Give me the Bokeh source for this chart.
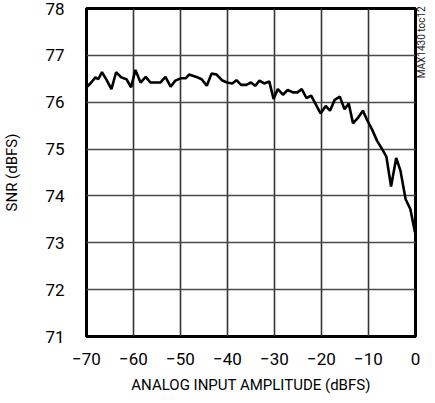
from bokeh.plotting import figure
from bokeh.models import FixedTicker, Range1d, LinearAxis
from bokeh.embed import file_html
from bokeh.resources import INLINE
import math

amplitude_dbfs = [-70, -69, -68.1, -67.5, -66.7, -65.7, -64.7, -63.7, -62.6, -61.5, -60.5, -59.6,
                  -58.5, -57.4, -56.4, -54.3, -53.2, -52.1, -51.1, -50, -48.9, -48.2, -46.6, -45.5,
                  -44.4, -43.4, -42.3, -41.2, -40.1, -39, -38.1, -37.1, -36, -35, -34.1, -33.2,
                  -32.2, -31.1, -30.2, -29.3, -28.2, -27.2, -26.1, -25.1, -24.2, -23.2, -22.2,
                  -21.3, -20.2, -19.1, -18.2, -17.2, -16.1, -15.1, -14.2, -13.3, -12.3, -11.2,
                  -10.3, -9.2, -8.2, -7.1, -6.2, -5.2, -4.1, -3.2, -2.1, -1.1, -0.1]
snr_dbfs = [76.32, 76.42, 76.53, 76.49, 76.64, 76.47, 76.28, 76.64, 76.53, 76.49, 76.32, 76.69,
            76.42, 76.54, 76.42, 76.42, 76.54, 76.33, 76.46, 76.51, 76.51, 76.59, 76.54, 76.49,
            76.35, 76.61, 76.59, 76.47, 76.42, 76.40, 76.47, 76.37, 76.37, 76.42, 76.35, 76.46,
            76.40, 76.44, 76.07, 76.28, 76.16, 76.26, 76.21, 76.21, 76.28, 76.09, 76.14,
            75.97, 75.76, 75.92, 75.82, 76.05, 76.12, 75.85, 75.97, 75.55, 75.66, 75.82,
            75.62, 75.41, 75.18, 75.00, 74.84, 74.20, 74.81, 74.54, 73.93, 73.72, 73.22]

x_ticks = [-70, -60, -50, -40, -30, -20, -10, 0]
y_ticks = [71, 72, 73, 74, 75, 76, 77, 78]
chart_tag = "MAX1430 toc12"

FONT = "Roboto"

p = figure(frame_width=329, frame_height=328, output_backend="svg", toolbar_location=None,
           x_range=Range1d(-70, 0), y_range=Range1d(71, 78),
           min_border_left=78, min_border_top=8, min_border_right=4, min_border_bottom=30)

p.line(amplitude_dbfs, snr_dbfs, line_color="black", line_width=2.6)

p.outline_line_color = "black"
p.outline_line_width = 3
p.background_fill_color = "white"
p.border_fill_color = "white"

for ax in (p.xaxis[0], p.yaxis[0]):
    ax.axis_line_color = None
    ax.major_tick_line_color = None
    ax.minor_tick_line_color = None
    ax.major_label_text_font = FONT
    ax.major_label_text_font_size = "17px"
    ax.major_label_text_color = "black"
    ax.axis_label_text_font = FONT
    ax.axis_label_text_font_size = "15px"
    ax.axis_label_text_font_style = "normal"
    ax.axis_label_text_color = "black"

p.xaxis.ticker = FixedTicker(ticks=x_ticks)
p.yaxis.ticker = FixedTicker(ticks=y_ticks)
p.xaxis.axis_label = "ANALOG INPUT AMPLITUDE (dBFS)"
p.yaxis.axis_label = "SNR (dBFS)"
p.xaxis.major_label_standoff = 10
p.xaxis.axis_label_standoff = 8
p.yaxis.major_label_standoff = 16
p.yaxis.axis_label_standoff = 21

p.xgrid.ticker = FixedTicker(ticks=x_ticks)
p.ygrid.ticker = FixedTicker(ticks=y_ticks)
p.xgrid.grid_line_color = "#333333"
p.xgrid.grid_line_width = 1.6
p.ygrid.grid_line_color = "#4a4a4a"
p.ygrid.grid_line_width = 1.6

# The label starts at the middle of the frame and reads upwards; non-breaking
# spaces push the visible tag up to the top right corner as in the reference.
tag_axis = LinearAxis(ticker=FixedTicker(ticks=[]), axis_label="\u00a0" * 38 + chart_tag,
                      axis_line_color=None, major_tick_line_color=None,
                      minor_tick_line_color=None, major_label_text_font_size="0px",
                      major_label_standoff=0, axis_label_standoff=6,
                      axis_label_text_font=FONT, axis_label_text_font_size="10px",
                      axis_label_text_font_style="normal", axis_label_text_color="#222222")
try:
    tag_axis.axis_label_orientation = math.pi / 2
except Exception:
    pass
p.add_layout(tag_axis, "right")

open("out.html", "w").write(file_html(p, INLINE))
